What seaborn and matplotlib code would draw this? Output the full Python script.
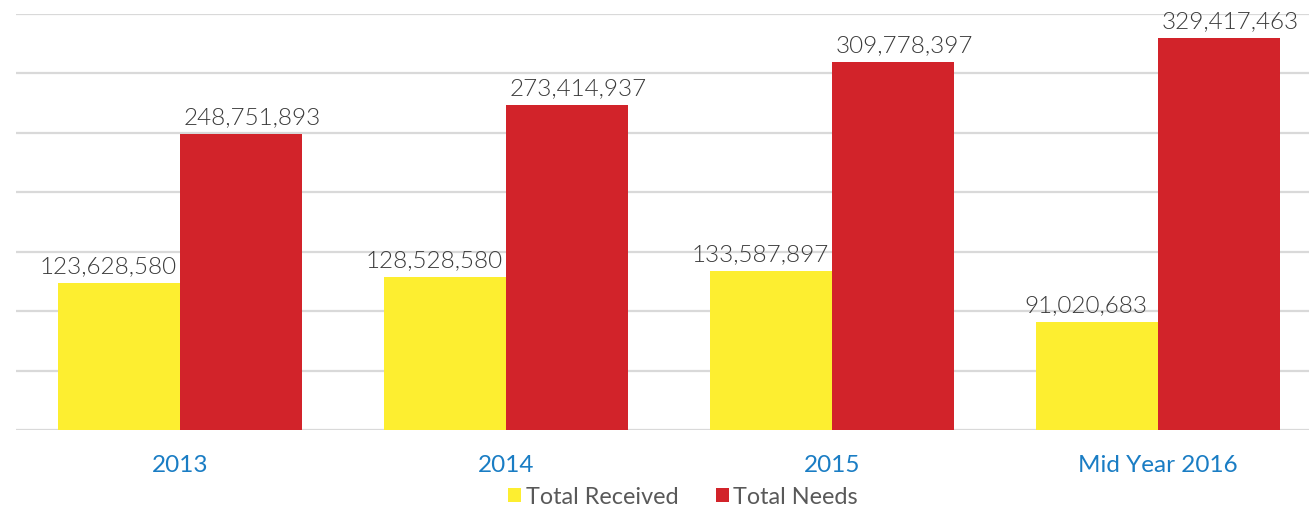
import pandas as pd
import seaborn as sns
import matplotlib.pyplot as plt

# Chart values
years = ["2013", "2014", "2015", "Mid Year 2016"]
total_received = [123628580, 128528580, 133587897, 91020683]
total_needs = [248751893, 273414937, 309778397, 329417463]

df = pd.DataFrame({"Year": years,
                   "Total Received": total_received,
                   "Total Needs": total_needs})
df_melted = pd.melt(df, id_vars="Year", var_name="Category", value_name="Value")

sns.set_style("white")
plt.rcParams["font.family"] = ["Lato", "DejaVu Sans"]

fig = plt.figure(figsize=(13.09, 5.06), dpi=100)
ax = fig.add_axes([16 / 1309, 75 / 506, 1 - 16 / 1309, (431 - 15) / 506])

sns.barplot(data=df_melted, x="Year", y="Value", hue="Category",
            palette=["#FDEE30", "#D2232A"], width=0.75, saturation=1,
            linewidth=0, ax=ax, legend=True)

# Value labels above each bar, nudged apart like the original
for cont, dx in zip(ax.containers, [-8, 8]):
    anns = ax.bar_label(cont, labels=[f"{v:,.0f}" for v in cont.datavalues],
                        padding=5, fontsize=17.5, color="#3a3a3a", fontweight=300)
    for a in anns:
        a.xyann = (dx, 5)

ax.set_ylim(0, 350_000_000)
ax.set_xlim(-0.503, 3.463)
ax.set_yticks(range(0, 350_000_001, 50_000_000))
ax.set_yticklabels([])
ax.yaxis.grid(True, color="#d9d9d9", linewidth=1.6)
ax.set_axisbelow(True)
ax.tick_params(axis="both", length=0)
ax.tick_params(axis="x", pad=17, labelsize=17.5, labelcolor="#1a7dc4")
ax.set_xlabel("")
ax.set_ylabel("")
sns.despine(ax=ax, left=True, bottom=True, top=True, right=True)

# Legend below the plot
handles, labels = ax.get_legend_handles_labels()
ax.get_legend().remove()
fig.legend(handles, labels, loc="center", bbox_to_anchor=(683 / 1309, 0.017),
           ncol=2, frameon=False, fontsize=16.8, labelcolor="#595959",
           handlelength=0.55, handleheight=0.55, handletextpad=0.2,
           columnspacing=1.6)

plt.savefig("out.png", dpi=100)
